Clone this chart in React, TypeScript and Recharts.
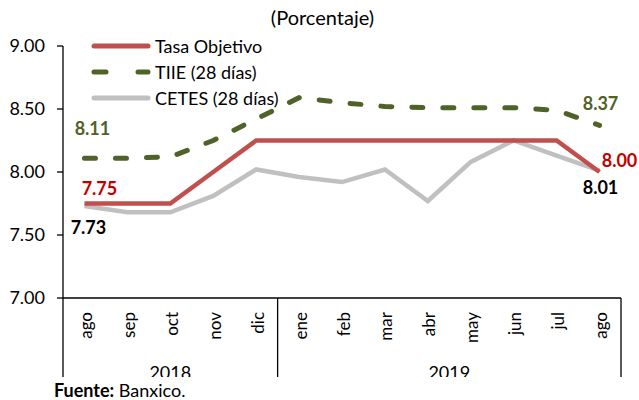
import { Line, LineChart, XAxis, YAxis } from "recharts"

const months = ["ago", "sep", "oct", "nov", "dic", "ene", "feb", "mar", "abr", "may", "jun", "jul", "ago"]
const tasaObjetivo = [7.75, 7.75, 7.75, 8.0, 8.25, 8.25, 8.25, 8.25, 8.25, 8.25, 8.25, 8.25, 8.0]
const tiie = [8.11, 8.11, 8.12, 8.25, 8.42, 8.59, 8.55, 8.52, 8.51, 8.51, 8.51, 8.49, 8.37]
const cetes = [7.73, 7.68, 7.68, 7.81, 8.02, 7.96, 7.92, 8.02, 7.77, 8.08, 8.25, 8.13, 8.01]
const yTicks = [7, 7.5, 8, 8.5, 9]
const years = [
  { label: "2018", from: 0, to: 4 },
  { label: "2019", from: 5, to: 12 },
]

const data = months.map((m, i) => ({
  mes: m,
  tasa: tasaObjetivo[i],
  tiie: tiie[i],
  cetes: cetes[i],
}))

const W = 639
const H = 400
const LEFT = 63
const RIGHT = 18
const TOP = 46
const XAXIS_H = 102
const BAND = (W - LEFT - RIGHT) / months.length
const FONT = "Lato, 'Noto Sans', sans-serif"

const RED = "#c0504d"
const GREEN = "#4f6228"
const GRAY = "#c0c0c0"

const XTick = (props: any) => {
  const { x, payload, index } = props
  const axisY = H - XAXIS_H
  const left = x - BAND / 2
  const right = x + BAND / 2
  const parts = []
  const lineBottom = 377
  for (const g of years) {
    if (index === g.from && g.from === 0) {
      parts.push(<line key="l" x1={left} x2={left} y1={axisY} y2={lineBottom} stroke="#000" strokeWidth={1.3} />)
    }
    if (index === g.to) {
      parts.push(<line key="r" x1={right} x2={right} y1={axisY} y2={lineBottom} stroke="#000" strokeWidth={1.3} />)
    }
    if (index === g.from) {
      const center = left + ((g.to - g.from + 1) * BAND) / 2
      parts.push(
        <text key="y" x={center} y={379} textAnchor="middle" fontSize={18} fill="#000" fontFamily={FONT} clipPath="url(#yrclip)">
          {g.label}
        </text>
      )
    }
  }
  return (
    <g>
      <defs>
        <clipPath id="yrclip">
          <rect x={0} y={0} width={W} height={377} />
        </clipPath>
      </defs>
      <text
        transform={`translate(${x + 1},${axisY + 14}) rotate(-90)`}
        textAnchor="end"
        dominantBaseline="central"
        fontSize={17}
        fill="#000"
        fontFamily={FONT}
      >
        {payload.value}
      </text>
      {parts}
    </g>
  )
}

const endLabel = (color: string, first: [number, number], last: [number, number]) => (props: any) => {
  const { x, y, index, value } = props
  if (index !== 0 && index !== months.length - 1) return null
  const [dx, dy] = index === 0 ? first : last
  return (
    <text
      key={index}
      x={x + dx}
      y={y + dy}
      textAnchor="middle"
      dominantBaseline="central"
      fontSize={18}
      fontWeight="bold"
      fill={color}
      fontFamily={FONT}
    >
      {Number(value).toFixed(2)}
    </text>
  )
}

const legendItems = [
  { name: "Tasa Objetivo", color: RED, dash: undefined },
  { name: "TIIE (28 días)", color: GREEN, dash: "12 32" },
  { name: "CETES (28 días)", color: GRAY, dash: undefined },
]

const LegendBox = () => (
  <div style={{ position: "absolute", left: 90, top: 33, fontFamily: FONT, fontSize: 18, color: "#000" }}>
    {legendItems.map((it) => (
      <div key={it.name} style={{ display: "flex", alignItems: "center", height: 26 }}>
        <svg width={62} height={10} style={{ marginRight: 3 }}>
          <line x1={4} x2={58} y1={5} y2={5} stroke={it.color} strokeWidth={5} strokeDasharray={it.dash} strokeLinecap="round" />
        </svg>
        <span>{it.name}</span>
      </div>
    ))}
  </div>
)

export default function App() {
  return (
    <div style={{ position: "absolute", left: 0, top: 0, width: W, height: H, background: "#fff", fontFamily: FONT }}>
      <div style={{ position: "absolute", left: 0, width: W, top: 5, textAlign: "center", fontSize: 20, paddingLeft: 3 }}>
        (Porcentaje)
      </div>
      <LineChart width={W} height={H} data={data} margin={{ top: TOP, right: RIGHT, left: 0, bottom: 0 }}>
        <XAxis
          dataKey="mes"
          height={XAXIS_H}
          interval={0}
          padding={{ left: BAND / 2, right: BAND / 2 }}
          tickLine={false}
          axisLine={{ stroke: "#000", strokeWidth: 1.3 }}
          tick={<XTick />}
        />
        <YAxis
          width={LEFT}
          domain={[7, 9]}
          ticks={yTicks}
          tickFormatter={(v: number) => v.toFixed(2)}
          tickSize={6}
          tickMargin={12}
          axisLine={{ stroke: "#000", strokeWidth: 1.3 }}
          tickLine={{ stroke: "#000", strokeWidth: 1.3 }}
          tick={{ fill: "#000", fontSize: 18, fontFamily: FONT }}
        />
        <Line
          dataKey="cetes"
          name="CETES (28 días)"
          stroke={GRAY}
          strokeWidth={4.5}
          dot={false}
          isAnimationActive={false}
          label={endLabel("#000", [4, 21], [1, 16])}
        />
        <Line
          dataKey="tasa"
          name="Tasa Objetivo"
          stroke={RED}
          strokeWidth={4.5}
          dot={false}
          isAnimationActive={false}
          label={endLabel("#c00000", [15, -16], [20, -12])}
        />
        <Line
          dataKey="tiie"
          name="TIIE (28 días)"
          stroke={GREEN}
          strokeWidth={5}
          strokeDasharray="11 20"
          strokeLinecap="round"
          dot={false}
          isAnimationActive={false}
          label={endLabel(GREEN, [8, -30], [1, -22])}
        />
      </LineChart>
      <LegendBox />
      <div style={{ position: "absolute", left: 54, top: 379, fontSize: 18 }}>
        <b>Fuente:</b> Banxico.
      </div>
    </div>
  )
}
